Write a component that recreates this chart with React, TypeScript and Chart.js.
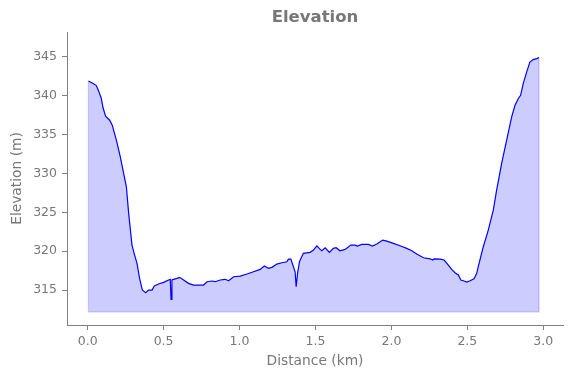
import React, { useEffect, useRef } from "react";
import { Chart, registerables } from "chart.js";

Chart.register(...registerables);

const distanceKm = [
  0.005, 0.036, 0.057, 0.072, 0.09, 0.101, 0.118, 0.145, 0.162, 0.189, 0.215, 0.237, 0.255, 0.27,
  0.292, 0.309, 0.325, 0.342, 0.36, 0.382, 0.401, 0.424, 0.439, 0.467, 0.5, 0.533, 0.544, 0.549,
  0.555, 0.566, 0.588, 0.605, 0.632, 0.664, 0.697, 0.763, 0.786, 0.818, 0.84, 0.873, 0.906, 0.928,
  0.961, 1.005, 1.049, 1.092, 1.136, 1.163, 1.191, 1.213, 1.246, 1.279, 1.312, 1.322, 1.338, 1.355,
  1.366, 1.373, 1.382, 1.395, 1.404, 1.421, 1.465, 1.487, 1.509, 1.531, 1.542, 1.564, 1.592, 1.618,
  1.636, 1.662, 1.695, 1.733, 1.761, 1.776, 1.805, 1.849, 1.875, 1.904, 1.943, 1.97, 2.013, 2.057,
  2.101, 2.134, 2.167, 2.211, 2.255, 2.272, 2.281, 2.32, 2.347, 2.375, 2.397, 2.419, 2.441, 2.457,
  2.474, 2.496, 2.518, 2.544, 2.562, 2.572, 2.605, 2.638, 2.671, 2.693, 2.726, 2.759, 2.792, 2.814,
  2.836, 2.851, 2.868, 2.891, 2.912, 2.934, 2.957, 2.972,
];

const elevationM = [
  341.9, 341.57, 341.31, 340.62, 339.64, 338.48, 337.36, 336.85, 336.21, 334.28, 332.13, 330.0,
  328.28, 324.86, 320.78, 319.5, 318.43, 316.5, 315.0, 314.65, 315.0, 315.0, 315.51, 315.77, 315.99,
  316.29, 316.38, 313.8, 316.29, 316.38, 316.5, 316.63, 316.29, 315.86, 315.64, 315.64, 316.07,
  316.16, 316.07, 316.29, 316.38, 316.2, 316.71, 316.8, 317.06, 317.35, 317.66, 318.08, 317.79,
  317.92, 318.34, 318.51, 318.64, 318.98, 318.98, 318.0, 317.35, 315.42, 317.15, 318.64, 319.07,
  319.72, 319.85, 320.14, 320.69, 320.23, 320.05, 320.44, 319.85, 320.36, 320.44, 320.05, 320.23,
  320.78, 320.78, 320.66, 320.87, 320.87, 320.66, 320.91, 321.43, 321.3, 321.0, 320.69, 320.36,
  320.05, 319.63, 319.15, 319.02, 318.86, 319.02, 318.98, 318.86, 318.21, 317.66, 317.22, 316.93,
  316.29, 316.2, 316.03, 316.2, 316.45, 317.15, 318.0, 320.57, 322.71, 325.28, 327.85, 331.29,
  334.28, 337.28, 338.78, 339.64, 340.06, 341.57, 343.06, 344.34, 344.65, 344.78, 344.91,
];

const fillBase = 312.2;
const xTicks = [0, 0.5, 1.0, 1.5, 2.0, 2.5, 3.0];
const yTicks = [315, 320, 325, 330, 335, 340, 345];
const titleText = "Elevation";

const FONT = "'DejaVu Sans', sans-serif";
const TEXT = "#777777";
const AXIS = "#808080";

const axesTitlePlugin = {
  id: "axesTitle",
  afterDraw(chart: any) {
    const { ctx, chartArea } = chart;
    ctx.save();
    ctx.font = `bold 16.5px ${FONT}`;
    ctx.fillStyle = TEXT;
    ctx.textAlign = "center";
    ctx.textBaseline = "middle";
    ctx.fillText(titleText, (chartArea.left + chartArea.right) / 2, 17.5);
    ctx.restore();
  },
};

export default function App() {
  const ref = useRef<HTMLCanvasElement | null>(null);

  useEffect(() => {
    document.body.style.margin = "0";
    const canvas = ref.current;
    if (!canvas) return;

    const points = distanceKm.map((x, i) => ({ x, y: elevationM[i] }));
    const n = points.length;
    const edge = [
      { x: distanceKm[0], y: elevationM[0] },
      { x: distanceKm[0], y: fillBase },
      { x: distanceKm[n - 1], y: fillBase },
      { x: distanceKm[n - 1], y: elevationM[n - 1] },
    ];

    const chart = new Chart(canvas, {
      type: "line",
      data: {
        datasets: [
          {
            label: "Elevation",
            data: points,
            borderColor: "#0000ff",
            borderWidth: 1.2,
            backgroundColor: "rgba(0,0,255,0.2)",
            fill: { value: fillBase },
            pointRadius: 0,
            tension: 0,
          },
          {
            label: "edge",
            data: edge,
            borderColor: "rgba(0,0,255,0.2)",
            borderWidth: 1.2,
            fill: false,
            pointRadius: 0,
            tension: 0,
          },
        ],
      },
      plugins: [axesTitlePlugin],
      options: {
        responsive: false,
        animation: false,
        devicePixelRatio: 1,
        layout: { padding: { left: 0, right: 8, top: 32, bottom: 0 } },
        plugins: {
          legend: { display: false },
          tooltip: { enabled: false },
          title: { display: false },
        },
        scales: {
          x: {
            type: "linear",
            min: -0.136,
            max: 3.13,
            afterBuildTicks: (scale: any) => {
              scale.ticks = xTicks.map((v) => ({ value: v }));
            },
            afterFit: (scale: any) => {
              scale.height = 53;
              scale.paddingLeft = 0;
              scale.paddingRight = 0;
            },
            ticks: {
              color: TEXT,
              font: { family: FONT, size: 12.5 },
              padding: 4,
              maxRotation: 0,
              autoSkip: false,
              callback: (v: any) => Number(v).toFixed(1),
            },
            grid: {
              display: true,
              drawOnChartArea: false,
              drawTicks: true,
              tickLength: 5,
              color: AXIS,
              lineWidth: 1,
            },
            border: { display: true, color: AXIS, width: 1 },
            title: {
              display: true,
              text: "Distance (km)",
              color: TEXT,
              font: { family: FONT, size: 13.8, lineHeight: 1.2 },
              padding: { top: 0, bottom: 8.7 },
            },
          },
          y: {
            type: "linear",
            min: 310.5,
            max: 348.2,
            afterBuildTicks: (scale: any) => {
              scale.ticks = yTicks.map((v) => ({ value: v }));
            },
            afterFit: (scale: any) => {
              scale.width = 67;
              scale.paddingTop = 0;
              scale.paddingBottom = 0;
            },
            ticks: {
              color: TEXT,
              font: { family: FONT, size: 12.5 },
              padding: 5,
              autoSkip: false,
              callback: (v: any) => String(Math.round(Number(v))),
            },
            grid: {
              display: true,
              drawOnChartArea: false,
              drawTicks: true,
              tickLength: 5,
              color: AXIS,
              lineWidth: 1,
            },
            border: { display: true, color: AXIS, width: 1 },
            title: {
              display: true,
              text: "Elevation (m)",
              color: TEXT,
              font: { family: FONT, size: 13.8, lineHeight: 1.2 },
              padding: { top: 8.7, bottom: 0 },
            },
          },
        },
      },
    });

    return () => chart.destroy();
  }, []);

  return <canvas ref={ref} width={571} height={378} style={{ display: "block" }} />;
}
